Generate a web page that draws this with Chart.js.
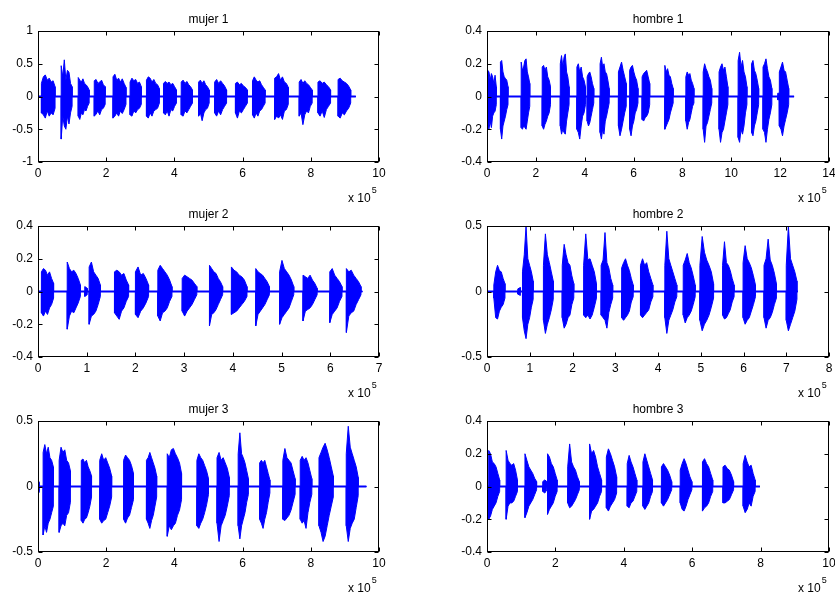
<!DOCTYPE html>
<html>
<head>
<meta charset="utf-8">
<script src="https://cdn.jsdelivr.net/npm/chart.js@4"></script>
<style>
  body { margin: 0; background: #fff; width: 835px; height: 593px; overflow: hidden; position: relative; }
  canvas { position: absolute; }
</style>
</head>
<body>
<canvas id="c0" width="417" height="210" style="left:0px;top:0px"></canvas>
<canvas id="c1" width="400" height="210" style="left:449px;top:0px"></canvas>
<canvas id="c2" width="417" height="210" style="left:0px;top:195px"></canvas>
<canvas id="c3" width="400" height="210" style="left:449px;top:195px"></canvas>
<canvas id="c4" width="417" height="210" style="left:0px;top:390px"></canvas>
<canvas id="c5" width="400" height="210" style="left:449px;top:390px"></canvas>
<script>
// x in units of 1e5 samples; each burst: [start, end, peaks above 0, peaks below 0]
const titles = ['mujer 1', 'hombre 1', 'mujer 2', 'hombre 2', 'mujer 3', 'hombre 3'];
const xMax = [10, 14, 7, 8, 10, 10];
const xStep = [2, 2, 1, 1, 2, 2];
const yMax = [1, 0.4, 0.4, 0.5, 0.5, 0.4];
const yStep = [0.5, 0.2, 0.2, 0.5, 0.5, 0.2];
const signalEnd = [9.32, 12.57, 6.66, 7.27, 9.63, 7.98];

const mujer1 = [
  [0.10, 0.50, [0.20, 0.30, 0.33, 0.25, 0.28, 0.22, 0.24, 0.15], [-0.25, -0.28, -0.33, -0.22, -0.30, -0.25, -0.28, -0.18]],
  [0.68, 1.00, [0.47, 0.30, 0.56, 0.25, 0.40, 0.37, 0.20, 0.15], [-0.65, -0.30, -0.45, -0.50, -0.30, -0.42, -0.25, -0.15]],
  [1.18, 1.50, [0.29, 0.25, 0.22, 0.27, 0.20, 0.18, 0.15, 0.10], [-0.30, -0.35, -0.25, -0.28, -0.20, -0.22, -0.15, -0.10]],
  [1.65, 1.97, [0.24, 0.26, 0.20, 0.22, 0.25, 0.18, 0.15], [-0.30, -0.27, -0.22, -0.28, -0.20, -0.18, -0.12]],
  [2.20, 2.58, [0.30, 0.34, 0.25, 0.28, 0.22, 0.27, 0.20, 0.14], [-0.33, -0.30, -0.25, -0.30, -0.22, -0.26, -0.20, -0.12]],
  [2.70, 3.03, [0.22, 0.28, 0.24, 0.26, 0.20, 0.22, 0.15], [-0.28, -0.30, -0.22, -0.25, -0.20, -0.18, -0.12]],
  [3.18, 3.56, [0.25, 0.30, 0.28, 0.22, 0.26, 0.20, 0.18, 0.12], [-0.30, -0.33, -0.25, -0.30, -0.22, -0.20, -0.18, -0.10]],
  [3.68, 4.06, [0.20, 0.23, 0.20, 0.22, 0.18, 0.20, 0.15, 0.10], [-0.25, -0.28, -0.22, -0.30, -0.20, -0.22, -0.15, -0.10]],
  [4.20, 4.53, [0.22, 0.25, 0.20, 0.23, 0.18, 0.15, 0.10], [-0.28, -0.30, -0.22, -0.25, -0.20, -0.15, -0.10]],
  [4.71, 5.02, [0.22, 0.25, 0.20, 0.24, 0.18, 0.15, 0.10], [-0.30, -0.25, -0.37, -0.25, -0.20, -0.18, -0.10]],
  [5.18, 5.53, [0.22, 0.26, 0.20, 0.24, 0.20, 0.16, 0.10], [-0.25, -0.30, -0.22, -0.28, -0.20, -0.15, -0.10]],
  [5.79, 6.14, [0.20, 0.22, 0.18, 0.20, 0.16, 0.14, 0.10], [-0.25, -0.33, -0.22, -0.25, -0.20, -0.15, -0.10]],
  [6.29, 6.66, [0.24, 0.30, 0.25, 0.22, 0.24, 0.18, 0.14, 0.10], [-0.28, -0.33, -0.25, -0.30, -0.22, -0.20, -0.15, -0.10]],
  [6.94, 7.34, [0.28, 0.30, 0.35, 0.25, 0.30, 0.22, 0.20, 0.14], [-0.35, -0.30, -0.33, -0.28, -0.35, -0.22, -0.20, -0.12]],
  [7.66, 8.04, [0.22, 0.26, 0.20, 0.24, 0.20, 0.18, 0.14, 0.10], [-0.30, -0.25, -0.43, -0.28, -0.22, -0.25, -0.15, -0.10]],
  [8.21, 8.58, [0.22, 0.24, 0.20, 0.22, 0.18, 0.15, 0.10], [-0.25, -0.30, -0.22, -0.32, -0.20, -0.15, -0.10]],
  [8.80, 9.17, [0.26, 0.28, 0.24, 0.22, 0.20, 0.16, 0.10], [-0.30, -0.33, -0.25, -0.28, -0.22, -0.18, -0.10]]
];

const hombre1 = [
  [0.03, 0.38, [0.16, 0.15, 0.10, 0.14, 0.12, 0.08, 0.13, 0.06], [-0.18, -0.20, -0.15, -0.19, -0.12, -0.10, -0.09, -0.05]],
  [0.55, 0.86, [0.21, 0.22, 0.15, 0.12, 0.11, 0.10, 0.06], [-0.20, -0.26, -0.18, -0.15, -0.12, -0.08, -0.05]],
  [1.40, 1.75, [0.21, 0.16, 0.18, 0.22, 0.23, 0.15, 0.12, 0.08], [-0.19, -0.20, -0.18, -0.19, -0.20, -0.15, -0.10, -0.06]],
  [2.26, 2.60, [0.18, 0.19, 0.16, 0.18, 0.12, 0.10, 0.06], [-0.18, -0.20, -0.17, -0.15, -0.12, -0.10, -0.05]],
  [3.00, 3.36, [0.20, 0.25, 0.18, 0.24, 0.26, 0.15, 0.12, 0.06], [-0.18, -0.23, -0.20, -0.22, -0.23, -0.15, -0.10, -0.05]],
  [3.68, 4.03, [0.18, 0.20, 0.15, 0.18, 0.12, 0.10, 0.06], [-0.20, -0.22, -0.26, -0.18, -0.12, -0.10, -0.05]],
  [4.10, 4.37, [0.12, 0.14, 0.15, 0.12, 0.08, 0.05], [-0.15, -0.18, -0.16, -0.12, -0.08, -0.04]],
  [4.63, 5.00, [0.20, 0.24, 0.18, 0.20, 0.15, 0.14, 0.10, 0.05], [-0.22, -0.26, -0.20, -0.23, -0.15, -0.12, -0.08, -0.04]],
  [5.38, 5.70, [0.15, 0.18, 0.21, 0.16, 0.12, 0.08], [-0.18, -0.24, -0.20, -0.15, -0.10, -0.06]],
  [5.84, 6.18, [0.16, 0.18, 0.19, 0.15, 0.12, 0.10, 0.05], [-0.20, -0.24, -0.18, -0.15, -0.10, -0.08, -0.04]],
  [6.35, 6.66, [0.12, 0.14, 0.15, 0.16, 0.12, 0.08], [-0.14, -0.15, -0.13, -0.12, -0.10, -0.05]],
  [7.28, 7.62, [0.19, 0.15, 0.17, 0.13, 0.12, 0.08, 0.05], [-0.20, -0.18, -0.16, -0.14, -0.10, -0.07, -0.04]],
  [8.14, 8.47, [0.12, 0.15, 0.13, 0.14, 0.10, 0.08, 0.05], [-0.15, -0.20, -0.16, -0.14, -0.10, -0.06, -0.04]],
  [8.85, 9.20, [0.15, 0.20, 0.17, 0.15, 0.12, 0.10, 0.05], [-0.20, -0.28, -0.18, -0.16, -0.12, -0.08, -0.04]],
  [9.50, 9.86, [0.15, 0.18, 0.20, 0.16, 0.18, 0.12, 0.06], [-0.20, -0.28, -0.22, -0.20, -0.15, -0.10, -0.05]],
  [10.28, 10.64, [0.22, 0.27, 0.18, 0.22, 0.15, 0.12, 0.06], [-0.25, -0.28, -0.20, -0.23, -0.18, -0.10, -0.05]],
  [10.83, 11.12, [0.20, 0.22, 0.16, 0.14, 0.10, 0.05], [-0.22, -0.24, -0.18, -0.15, -0.10, -0.05]],
  [11.30, 11.66, [0.18, 0.20, 0.23, 0.17, 0.12, 0.10, 0.05], [-0.20, -0.22, -0.28, -0.20, -0.14, -0.10, -0.05]],
  [11.90, 11.96, [0.02, 0.02], [-0.02, -0.02]],
  [11.97, 12.35, [0.15, 0.18, 0.21, 0.16, 0.15, 0.10, 0.05], [-0.18, -0.20, -0.24, -0.18, -0.14, -0.10, -0.05]]
];

const mujer2 = [
  [0.07, 0.32, [0.12, 0.14, 0.13, 0.10, 0.12, 0.08, 0.05], [-0.13, -0.15, -0.12, -0.14, -0.10, -0.08, -0.04]],
  [0.60, 0.87, [0.18, 0.14, 0.12, 0.13, 0.11, 0.08, 0.04], [-0.23, -0.15, -0.12, -0.13, -0.10, -0.07, -0.03]],
  [0.96, 1.01, [0.03, 0.02], [-0.03, -0.02]],
  [1.05, 1.28, [0.15, 0.18, 0.12, 0.10, 0.08, 0.04], [-0.20, -0.15, -0.14, -0.12, -0.08, -0.03]],
  [1.57, 1.86, [0.12, 0.13, 0.12, 0.10, 0.11, 0.07, 0.04], [-0.13, -0.15, -0.17, -0.12, -0.10, -0.06, -0.03]],
  [2.00, 2.27, [0.12, 0.15, 0.10, 0.11, 0.08, 0.04], [-0.14, -0.16, -0.12, -0.10, -0.07, -0.03]],
  [2.46, 2.75, [0.13, 0.16, 0.14, 0.12, 0.10, 0.07, 0.03], [-0.15, -0.18, -0.13, -0.12, -0.10, -0.06, -0.03]],
  [2.96, 3.26, [0.08, 0.10, 0.09, 0.08, 0.07, 0.05, 0.03], [-0.12, -0.15, -0.12, -0.10, -0.08, -0.05, -0.02]],
  [3.52, 3.79, [0.16, 0.14, 0.12, 0.11, 0.08, 0.06, 0.03], [-0.21, -0.14, -0.13, -0.11, -0.08, -0.05, -0.02]],
  [3.97, 4.29, [0.15, 0.13, 0.12, 0.10, 0.09, 0.07, 0.03], [-0.14, -0.13, -0.12, -0.10, -0.08, -0.06, -0.03]],
  [4.47, 4.75, [0.14, 0.12, 0.11, 0.10, 0.08, 0.06, 0.03], [-0.21, -0.14, -0.12, -0.10, -0.08, -0.05, -0.02]],
  [4.96, 5.25, [0.12, 0.19, 0.14, 0.12, 0.10, 0.07, 0.03], [-0.20, -0.16, -0.14, -0.12, -0.10, -0.06, -0.02]],
  [5.44, 5.73, [0.10, 0.09, 0.08, 0.10, 0.07, 0.05, 0.02], [-0.18, -0.12, -0.11, -0.10, -0.08, -0.05, -0.02]],
  [5.99, 6.24, [0.12, 0.14, 0.10, 0.08, 0.06, 0.03], [-0.19, -0.14, -0.12, -0.10, -0.06, -0.03]],
  [6.33, 6.63, [0.14, 0.12, 0.13, 0.10, 0.08, 0.06, 0.03], [-0.25, -0.15, -0.13, -0.12, -0.08, -0.05, -0.02]]
];

const hombre2 = [
  [0.16, 0.42, [0.05, 0.15, 0.20, 0.16, 0.15, 0.10, 0.06], [-0.05, -0.20, -0.21, -0.15, -0.12, -0.10, -0.05]],
  [0.72, 0.78, [0.02, 0.03], [-0.02, -0.03]],
  [0.83, 1.08, [0.15, 0.28, 0.50, 0.25, 0.20, 0.15, 0.08], [-0.20, -0.30, -0.36, -0.25, -0.20, -0.12, -0.06]],
  [1.32, 1.55, [0.20, 0.44, 0.28, 0.22, 0.15, 0.08], [-0.22, -0.32, -0.25, -0.20, -0.14, -0.06]],
  [1.76, 2.03, [0.20, 0.36, 0.28, 0.22, 0.20, 0.12, 0.06], [-0.20, -0.28, -0.25, -0.20, -0.18, -0.10, -0.05]],
  [2.26, 2.56, [0.20, 0.44, 0.24, 0.25, 0.20, 0.15, 0.06], [-0.18, -0.20, -0.18, -0.21, -0.18, -0.12, -0.05]],
  [2.67, 2.94, [0.20, 0.24, 0.45, 0.22, 0.18, 0.10, 0.05], [-0.18, -0.20, -0.22, -0.28, -0.16, -0.10, -0.05]],
  [3.15, 3.42, [0.18, 0.22, 0.25, 0.20, 0.16, 0.10, 0.05], [-0.20, -0.22, -0.20, -0.18, -0.15, -0.08, -0.04]],
  [3.59, 3.88, [0.20, 0.25, 0.20, 0.22, 0.15, 0.10, 0.05], [-0.18, -0.20, -0.18, -0.16, -0.14, -0.08, -0.04]],
  [4.16, 4.44, [0.20, 0.46, 0.25, 0.20, 0.15, 0.10, 0.05], [-0.20, -0.32, -0.22, -0.18, -0.14, -0.08, -0.04]],
  [4.59, 4.87, [0.20, 0.24, 0.29, 0.22, 0.18, 0.12, 0.05], [-0.18, -0.24, -0.20, -0.18, -0.15, -0.10, -0.04]],
  [4.98, 5.30, [0.20, 0.42, 0.30, 0.24, 0.20, 0.15, 0.06], [-0.22, -0.30, -0.25, -0.22, -0.18, -0.12, -0.05]],
  [5.51, 5.78, [0.20, 0.38, 0.22, 0.20, 0.16, 0.10, 0.05], [-0.18, -0.21, -0.20, -0.17, -0.14, -0.08, -0.04]],
  [5.99, 6.28, [0.22, 0.35, 0.25, 0.22, 0.18, 0.12, 0.05], [-0.20, -0.25, -0.22, -0.20, -0.15, -0.10, -0.04]],
  [6.48, 6.77, [0.20, 0.25, 0.40, 0.24, 0.20, 0.14, 0.06], [-0.20, -0.28, -0.22, -0.20, -0.16, -0.10, -0.05]],
  [7.00, 7.25, [0.20, 0.50, 0.25, 0.20, 0.15, 0.08], [-0.22, -0.30, -0.25, -0.20, -0.15, -0.06]]
];

const mujer3 = [
  [0.00, 0.04, [0.05, 0.03], [-0.06, -0.04]],
  [0.15, 0.45, [0.26, 0.32, 0.25, 0.30, 0.22, 0.20, 0.15], [-0.37, -0.30, -0.35, -0.28, -0.25, -0.20, -0.15]],
  [0.62, 0.95, [0.20, 0.30, 0.26, 0.28, 0.20, 0.18, 0.12], [-0.35, -0.30, -0.28, -0.30, -0.22, -0.20, -0.12]],
  [1.27, 1.57, [0.20, 0.21, 0.18, 0.20, 0.15, 0.12, 0.08], [-0.26, -0.28, -0.25, -0.24, -0.20, -0.15, -0.08]],
  [1.81, 2.16, [0.20, 0.25, 0.20, 0.22, 0.18, 0.14, 0.08], [-0.25, -0.28, -0.26, -0.25, -0.20, -0.15, -0.08]],
  [2.51, 2.80, [0.20, 0.24, 0.22, 0.20, 0.16, 0.10], [-0.25, -0.28, -0.24, -0.22, -0.16, -0.10]],
  [3.18, 3.48, [0.20, 0.22, 0.26, 0.22, 0.18, 0.14, 0.08], [-0.25, -0.28, -0.32, -0.26, -0.22, -0.15, -0.08]],
  [3.79, 4.21, [0.25, 0.22, 0.28, 0.29, 0.25, 0.22, 0.18, 0.10], [-0.38, -0.30, -0.33, -0.30, -0.28, -0.22, -0.18, -0.10]],
  [4.66, 5.00, [0.20, 0.25, 0.22, 0.20, 0.16, 0.12, 0.06], [-0.30, -0.32, -0.28, -0.25, -0.20, -0.14, -0.06]],
  [5.25, 5.61, [0.22, 0.26, 0.20, 0.22, 0.18, 0.14, 0.07], [-0.28, -0.42, -0.30, -0.26, -0.22, -0.15, -0.07]],
  [5.87, 6.17, [0.25, 0.41, 0.25, 0.22, 0.18, 0.12, 0.06], [-0.30, -0.40, -0.30, -0.25, -0.20, -0.12, -0.06]],
  [6.50, 6.80, [0.18, 0.20, 0.18, 0.20, 0.15, 0.10, 0.05], [-0.25, -0.28, -0.32, -0.25, -0.20, -0.12, -0.05]],
  [7.18, 7.54, [0.20, 0.29, 0.22, 0.20, 0.18, 0.12, 0.06], [-0.25, -0.26, -0.24, -0.22, -0.18, -0.12, -0.06]],
  [7.69, 8.03, [0.20, 0.23, 0.20, 0.22, 0.18, 0.12, 0.06], [-0.25, -0.28, -0.26, -0.32, -0.20, -0.12, -0.06]],
  [8.24, 8.66, [0.22, 0.26, 0.30, 0.33, 0.28, 0.22, 0.15, 0.08], [-0.30, -0.35, -0.42, -0.38, -0.30, -0.22, -0.15, -0.08]],
  [9.04, 9.39, [0.25, 0.46, 0.30, 0.25, 0.20, 0.15, 0.07], [-0.30, -0.42, -0.32, -0.28, -0.25, -0.16, -0.07]]
];

const hombre3 = [
  [0.05, 0.37, [0.22, 0.20, 0.15, 0.14, 0.12, 0.08, 0.04], [-0.20, -0.18, -0.14, -0.12, -0.10, -0.06, -0.03]],
  [0.56, 0.89, [0.22, 0.16, 0.14, 0.13, 0.14, 0.10, 0.04], [-0.20, -0.12, -0.10, -0.10, -0.09, -0.06, -0.03]],
  [1.11, 1.45, [0.20, 0.16, 0.12, 0.10, 0.08, 0.05, 0.03], [-0.19, -0.16, -0.12, -0.10, -0.08, -0.05, -0.02]],
  [1.63, 1.75, [0.03, 0.04, 0.03], [-0.03, -0.04, -0.02]],
  [1.77, 2.05, [0.20, 0.18, 0.14, 0.12, 0.08, 0.04], [-0.17, -0.14, -0.12, -0.10, -0.06, -0.03]],
  [2.36, 2.70, [0.12, 0.26, 0.15, 0.12, 0.10, 0.06, 0.03], [-0.10, -0.13, -0.12, -0.10, -0.08, -0.05, -0.02]],
  [3.00, 3.35, [0.26, 0.20, 0.22, 0.18, 0.12, 0.08, 0.04], [-0.20, -0.15, -0.14, -0.12, -0.10, -0.06, -0.03]],
  [3.49, 3.79, [0.18, 0.23, 0.20, 0.16, 0.12, 0.06], [-0.13, -0.15, -0.12, -0.10, -0.08, -0.04]],
  [4.10, 4.38, [0.14, 0.19, 0.15, 0.12, 0.08, 0.04], [-0.12, -0.13, -0.10, -0.09, -0.06, -0.03]],
  [4.56, 4.84, [0.15, 0.20, 0.16, 0.12, 0.08, 0.04], [-0.12, -0.14, -0.12, -0.10, -0.06, -0.03]],
  [5.10, 5.40, [0.12, 0.14, 0.12, 0.10, 0.07, 0.03], [-0.10, -0.12, -0.10, -0.08, -0.05, -0.02]],
  [5.65, 5.99, [0.10, 0.14, 0.17, 0.14, 0.10, 0.06, 0.03], [-0.10, -0.14, -0.15, -0.12, -0.08, -0.05, -0.02]],
  [6.30, 6.60, [0.15, 0.17, 0.14, 0.12, 0.08, 0.04], [-0.15, -0.13, -0.12, -0.10, -0.06, -0.03]],
  [6.90, 7.21, [0.12, 0.13, 0.11, 0.10, 0.07, 0.03], [-0.10, -0.10, -0.09, -0.08, -0.05, -0.02]],
  [7.49, 7.84, [0.14, 0.19, 0.15, 0.12, 0.13, 0.08, 0.04], [-0.12, -0.16, -0.14, -0.10, -0.12, -0.06, -0.03]]
];

const signals = [mujer1, hombre1, mujer2, hombre2, mujer3, hombre3];

const BLUE = '#0000ff';
const FONT = { family: "'Liberation Sans', Arial, sans-serif", size: 12 };

// build one side (upper = 2, lower = 3) of the waveform outline,
// bursts start and stop with a vertical edge
function envelope(bursts, end, side) {
  const pts = [{ x: 0, y: 0 }];
  bursts.forEach(b => {
    const x0 = b[0], x1 = b[1], vals = b[side];
    const w = (x1 - x0) / (vals.length - 1);
    pts.push({ x: x0, y: 0 });
    vals.forEach((v, i) => pts.push({ x: x0 + w * i, y: v }));
    pts.push({ x: x1, y: 0 });
  });
  pts.push({ x: end, y: 0 });
  return pts;
}

const fmt = v => String(Math.round(v * 100) / 100);

// matlab-ish box with inward ticks and the "x 10^5" multiplier
const boxPlugin = {
  id: 'box',
  afterDraw(chart) {
    const { ctx, chartArea: a, scales } = chart;
    const L = Math.round(a.left) + 0.5, R = Math.round(a.right) - 0.5;
    const T = Math.round(a.top) + 0.5, B = Math.round(a.bottom) - 0.5;
    ctx.save();
    ctx.strokeStyle = '#000';
    ctx.lineWidth = 1;
    ctx.strokeRect(L, T, R - L, B - T);
    ctx.beginPath();
    scales.x.ticks.forEach(t => {
      const px = Math.round(scales.x.getPixelForValue(t.value)) + 0.5;
      ctx.moveTo(px, B); ctx.lineTo(px, B - 4);
      ctx.moveTo(px, T); ctx.lineTo(px, T + 4);
    });
    scales.y.ticks.forEach(t => {
      const py = Math.round(scales.y.getPixelForValue(t.value)) + 0.5;
      ctx.moveTo(L, py); ctx.lineTo(L + 4, py);
      ctx.moveTo(R, py); ctx.lineTo(R - 4, py);
    });
    ctx.stroke();
    ctx.fillStyle = '#000';
    ctx.textBaseline = 'alphabetic';
    ctx.font = "12px 'Liberation Sans', Arial, sans-serif";
    const xs = a.right - 31;
    ctx.fillText('x 10', xs, a.bottom + 39.5);
    const wTxt = ctx.measureText('x 10').width;
    ctx.font = "9px 'Liberation Sans', Arial, sans-serif";
    ctx.fillText('5', xs + wTxt + 1, a.bottom + 31);
    ctx.restore();
  }
};

signals.forEach((bursts, k) => {
  const right = k % 2 === 1;
  const common = {
    borderColor: BLUE,
    backgroundColor: BLUE,
    borderWidth: 1,
    pointRadius: 0,
    tension: 0,
    fill: 'origin'
  };
  new Chart(document.getElementById('c' + k), {
    type: 'line',
    data: {
      datasets: [
        Object.assign({ data: envelope(bursts, signalEnd[k], 2) }, common),
        Object.assign({ data: envelope(bursts, signalEnd[k], 3) }, common),
        // the thin noise line running along zero
        Object.assign({}, common, { data: [{ x: 0, y: 0 }, { x: signalEnd[k], y: 0 }], borderWidth: 2, fill: false })
      ]
    },
    options: {
      responsive: false,
      animation: false,
      events: [],
      layout: { padding: { left: 0, right: right ? 20 : 38, top: 0, bottom: 0 } },
      plugins: {
        legend: { display: false },
        tooltip: { enabled: false },
        title: {
          display: true,
          text: titles[k],
          fullSize: false,
          color: '#000',
          font: Object.assign({ weight: 'normal' }, FONT),
          padding: { top: 12, bottom: 4.6 }
        }
      },
      scales: {
        x: {
          type: 'linear',
          min: 0,
          max: xMax[k],
          grid: { display: false, drawTicks: false },
          border: { display: false },
          ticks: { stepSize: xStep[k], color: '#000', font: FONT, padding: 4, maxRotation: 0, callback: fmt },
          afterFit: s => { s.height = 48; }
        },
        y: {
          min: -yMax[k],
          max: yMax[k],
          grid: { display: false, drawTicks: false },
          border: { display: false },
          ticks: { stepSize: yStep[k], color: '#000', font: FONT, padding: 5, callback: fmt },
          afterFit: s => { s.width = 38; }
        }
      }
    },
    plugins: [boxPlugin]
  });
});
</script>
</body>
</html>
